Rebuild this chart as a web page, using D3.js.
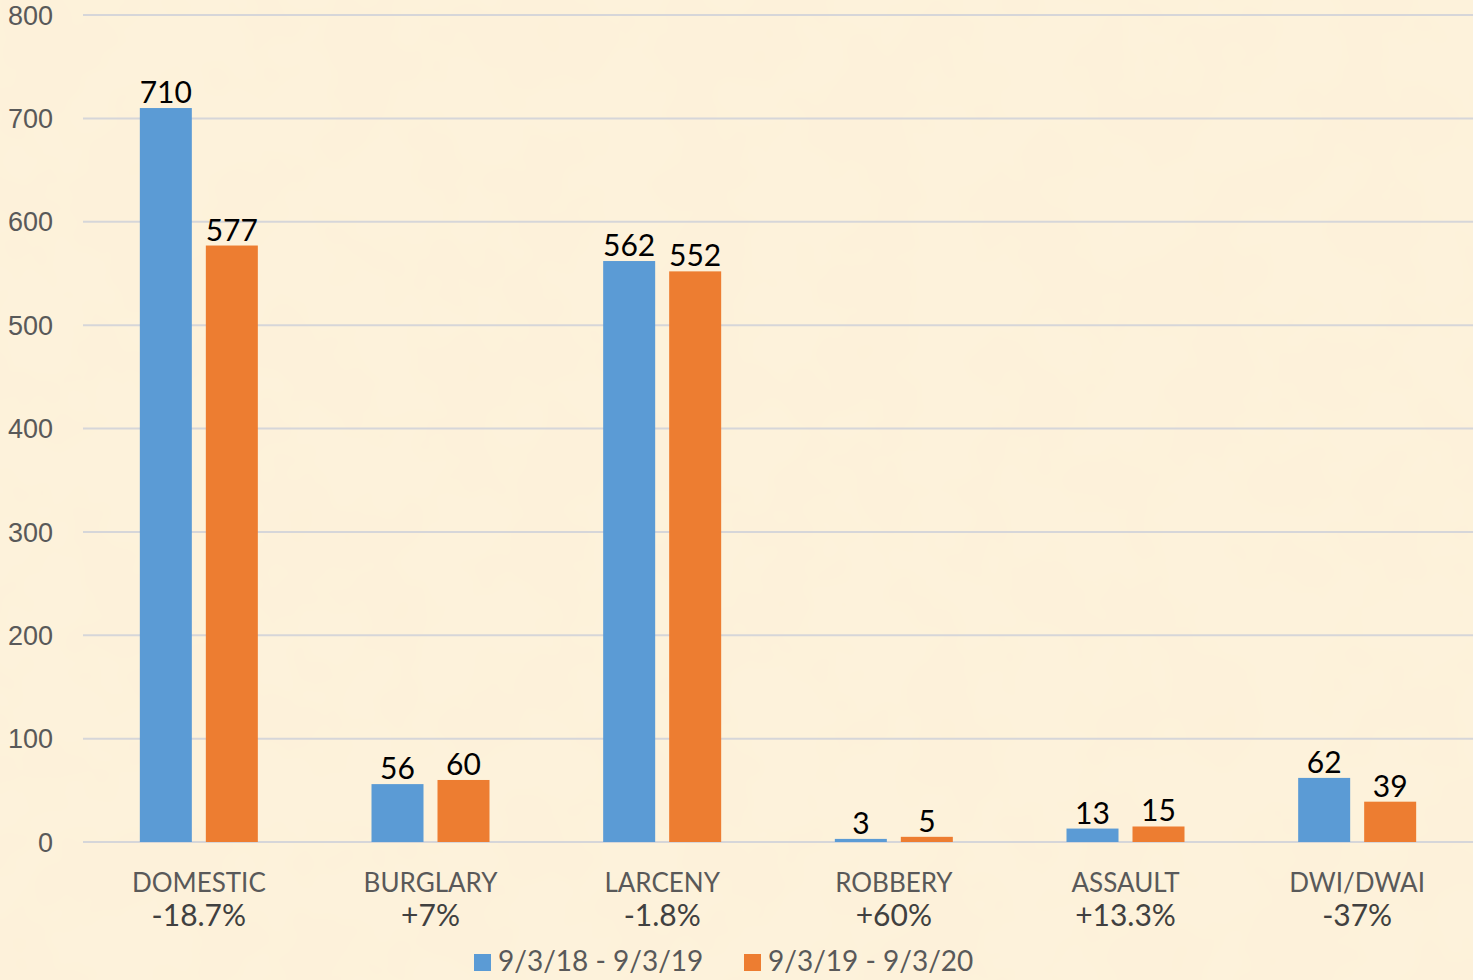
<!DOCTYPE html>
<html>
<head>
<meta charset="utf-8">
<script src="https://cdn.jsdelivr.net/npm/d3@7"></script>
<style>
  body { margin: 0; background: #fcefd5; }
  svg { display: block; font-family: Lato, "Open Sans", sans-serif; }
</style>
</head>
<body>
<div id="chart"></div>
<script>
// data
var categories = ["DOMESTIC", "BURGLARY", "LARCENY", "ROBBERY", "ASSAULT", "DWI/DWAI"];
var changes = ["-18.7%", "+7%", "-1.8%", "+60%", "+13.3%", "-37%"];
var series1 = [710, 56, 562, 3, 13, 62];
var series2 = [577, 60, 552, 5, 15, 39];
var seriesNames = ["9/3/18 - 9/3/19", "9/3/19 - 9/3/20"];
var colors = ["#5b9bd5", "#ed7d31"];
var yTicks = [0, 100, 200, 300, 400, 500, 600, 700, 800];

var W = 1473, H = 980;
var margin = { top: 15, right: 0, bottom: 138, left: 83 },
    width = W - margin.left - margin.right,
    height = H - margin.top - margin.bottom;

var root = d3.select("#chart").append("svg")
    .attr("width", W)
    .attr("height", H);

// parchment-ish background
var defs = root.append("defs");
var f = defs.append("filter").attr("id", "paper").attr("x", 0).attr("y", 0).attr("width", "100%").attr("height", "100%");
f.append("feTurbulence").attr("type", "fractalNoise").attr("baseFrequency", "0.012").attr("numOctaves", 3).attr("seed", 4);
f.append("feColorMatrix").attr("type", "matrix")
    .attr("values", "0 0 0 0 0.98  0 0 0 0 0.90  0 0 0 0 0.74  0 0 0 0.45 0");
root.append("rect").attr("width", W).attr("height", H).attr("fill", "#fdf1d9");
root.append("rect").attr("width", W).attr("height", H).attr("filter", "url(#paper)");

var svg = root.append("g")
    .attr("transform", "translate(" + margin.left + "," + margin.top + ")");

var x = d3.scaleBand().domain(categories).range([0, width]).padding(0);
var y = d3.scaleLinear().domain([0, 800]).range([height, 0]);

// gridlines
svg.append("g")
    .selectAll("line")
    .data(yTicks)
    .enter().append("line")
    .attr("x1", 0).attr("x2", width)
    .attr("y1", function (d) { return y(d); })
    .attr("y2", function (d) { return y(d); })
    .attr("stroke", "#d6d6d9")
    .attr("stroke-width", 2);

// y axis labels
var yAxis = svg.append("g")
    .call(d3.axisLeft(y).tickValues(yTicks).tickSize(0).tickPadding(30));
yAxis.select(".domain").remove();
yAxis.selectAll("text")
    .attr("fill", "#595959")
    .style("font-size", "27px")
    .attr("dy", "0.34em");

var barW = 52, gap = 14;
var groups = [series1, series2];

groups.forEach(function (vals, s) {
    var off = s === 0 ? -gap / 2 - barW : gap / 2;
    svg.append("g").selectAll("rect")
        .data(vals)
        .enter().append("rect")
        .attr("x", function (d, i) { return x(categories[i]) + x.bandwidth() / 2 + off; })
        .attr("y", function (d) { return y(d); })
        .attr("width", barW)
        .attr("height", function (d) { return height - y(d); })
        .attr("fill", colors[s]);

    svg.append("g").selectAll("text")
        .data(vals)
        .enter().append("text")
        .attr("x", function (d, i) { return x(categories[i]) + x.bandwidth() / 2 + off + barW / 2; })
        .attr("y", function (d) { return y(d) - 5; })
        .attr("text-anchor", "middle")
        .style("font-size", "30px")
        .attr("fill", "#000")
        .text(function (d) { return d; });
});

// category labels + percent change
var catG = svg.append("g").selectAll("g")
    .data(categories)
    .enter().append("g")
    .attr("transform", function (d) { return "translate(" + (x(d) + x.bandwidth() / 2) + "," + height + ")"; });
catG.append("text")
    .attr("y", 50)
    .attr("text-anchor", "middle")
    .style("font-size", "26px")
    .attr("fill", "#595959")
    .text(function (d) { return d; });
catG.append("text")
    .attr("y", 84)
    .attr("text-anchor", "middle")
    .style("font-size", "30px")
    .attr("fill", "#404040")
    .text(function (d, i) { return changes[i]; });

// legend
var legend = root.append("g").attr("transform", "translate(474," + 954 + ")");
var lx = [0, 270];
seriesNames.forEach(function (name, i) {
    var g = legend.append("g").attr("transform", "translate(" + lx[i] + ",0)");
    g.append("rect").attr("width", 17).attr("height", 17).attr("fill", colors[i]);
    g.append("text")
        .attr("x", 24).attr("y", 17)
        .style("font-size", "28px")
        .attr("fill", "#595959")
        .text(name);
});
</script>
</body>
</html>
